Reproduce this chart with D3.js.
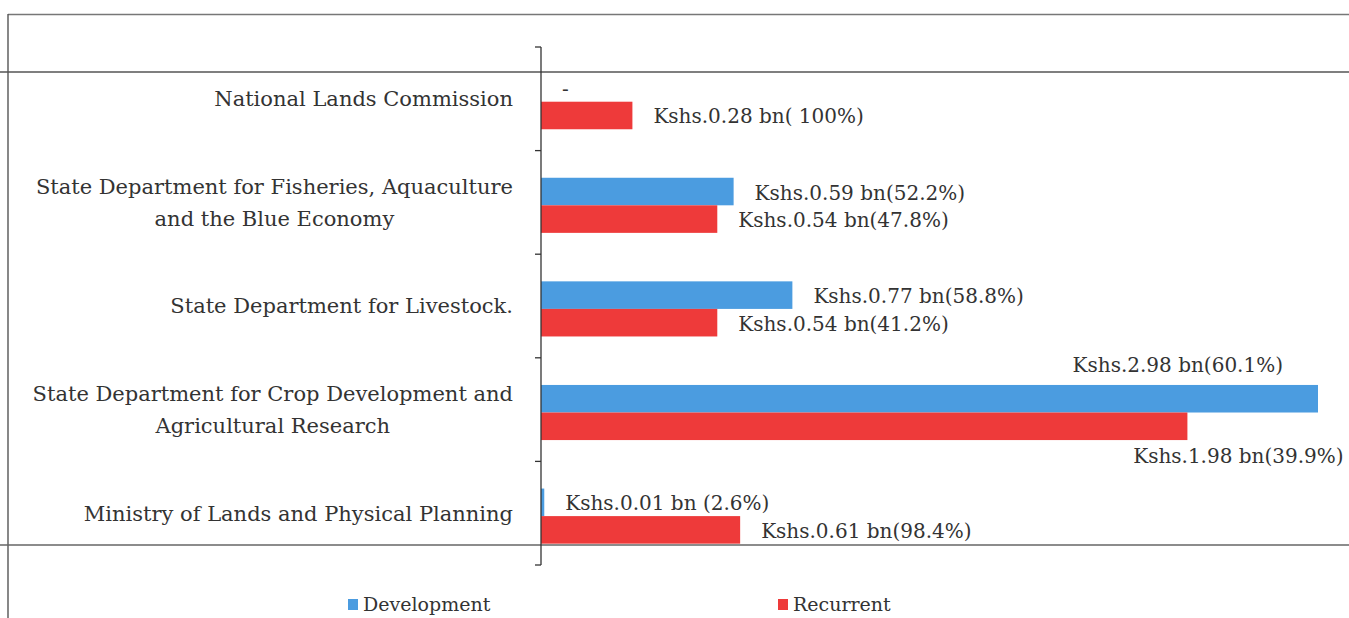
<!DOCTYPE html>
<html><head><meta charset="utf-8">
<script src="https://cdn.jsdelivr.net/npm/d3@7"></script>
<style>
body{margin:0;background:#fff;}
</style>
</head><body>
<svg id="chart" width="1349" height="618" font-family="'DejaVu Serif', serif" fill="#333"></svg>
<script>
// ---- data (top to bottom as drawn) ----
const categories = [
  "National Lands Commission",
  "State Department for Fisheries, Aquaculture\nand the Blue Economy",
  "State Department for Livestock.",
  "State Department for Crop Development and\nAgricultural Research",
  "Ministry of Lands and Physical Planning"
];
const seriesNames = ["Development", "Recurrent"];
const development = [0, 0.59, 0.77, 2.98, 0.01];   // Kshs bn
const recurrent   = [0.28, 0.54, 0.54, 1.98, 0.61]; // Kshs bn
const devLabels = ["-", "Kshs.0.59 bn(52.2%)", "Kshs.0.77 bn(58.8%)", "Kshs.2.98 bn(60.1%)", "Kshs.0.01 bn (2.6%)"];
const recLabels = ["Kshs.0.28 bn( 100%)", "Kshs.0.54 bn(47.8%)", "Kshs.0.54 bn(41.2%)", "Kshs.1.98 bn(39.9%)", "Kshs.0.61 bn(98.4%)"];
const axisMax = 2.38; // value axis maximum of the source chart (longer bars are cut at the edge)

// ---- styling ----
const colors = {Development: "#4b9ce0", Recurrent: "#ee3a3a"};
const catFont = 21, labelFont = 20, legendFont = 19;
const svg = d3.select("#chart");

const x = d3.scaleLinear().domain([0, axisMax]).range([541, 1318]).clamp(true);
const y = d3.scaleBand().domain(d3.range(categories.length)).range([47, 565]);
const sub = d3.scaleBand().domain(seriesNames).range([0, y.bandwidth()]).paddingOuter(0.88).align(0.56);

// frame lines (scanned page borders)
const frame = svg.append("g").attr("stroke", "#555").attr("stroke-width", 1.4);
frame.append("line").attr("x1", 8).attr("x2", 1349).attr("y1", 14.5).attr("y2", 14.5).attr("stroke","#777");
frame.append("line").attr("x1", 8).attr("x2", 8).attr("y1", 14).attr("y2", 618);
frame.append("line").attr("x1", 0).attr("x2", 1349).attr("y1", 72).attr("y2", 72);
frame.append("line").attr("x1", 0).attr("x2", 1349).attr("y1", 545).attr("y2", 545).attr("stroke","#666");

// bars
const rows = categories.map((c, i) => ({
  i, cat: c,
  vals: [
    {s: "Development", v: development[i], label: devLabels[i]},
    {s: "Recurrent", v: recurrent[i], label: recLabels[i]}
  ]
}));

const g = svg.append("g");
rows.forEach(r => {
  r.vals.forEach(d => {
    const y0 = y(r.i) + sub(d.s);
    if (d.v > 0) {
      g.append("rect")
        .attr("x", x(0)).attr("y", y0)
        .attr("width", x(d.v) - x(0)).attr("height", sub.bandwidth())
        .attr("fill", colors[d.s]);
    }
  });
});

// data labels
function placeLabel(r, d) {
  const y0 = y(r.i) + sub(d.s), h = sub.bandwidth(), xe = x(d.v);
  if (r.i === 3 && d.s === "Development") return {x: xe - 35, y: y0 - 20, anchor: "end"};
  if (r.i === 3 && d.s === "Recurrent") return {x: xe + 51, y: y0 + h + 16, anchor: "middle"};
  return {x: xe + 21, y: y0 + h / 2 + 1, anchor: "start"};
}
rows.forEach(r => r.vals.forEach(d => {
  const p = placeLabel(r, d);
  g.append("text").attr("x", p.x).attr("y", p.y).attr("dy", "0.35em")
    .attr("text-anchor", p.anchor).attr("font-size", labelFont).text(d.label);
}));

// category axis
const ax = svg.append("g").attr("stroke", "#333").attr("stroke-width", 1.3);
ax.append("line").attr("x1", x(0)).attr("x2", x(0)).attr("y1", y.range()[0]).attr("y2", y.range()[1]);
const bounds = y.domain().map(i => y(i)).concat([y.range()[1]]);
ax.selectAll(".tk").data(bounds).join("line")
  .attr("x1", x(0) - 6).attr("x2", x(0)).attr("y1", d => d).attr("y2", d => d);

// category labels (multi-line centred, block right-aligned)
rows.forEach(r => {
  const lines = r.cat.split("\n");
  const cy = y(r.i) + y.bandwidth() / 2;
  const t = svg.append("text").attr("font-size", catFont).attr("text-anchor", "middle");
  const lh = 32;
  lines.forEach((ln, k) => {
    t.append("tspan").attr("x", 0).attr("y", cy + (k - (lines.length - 1) / 2) * lh).attr("dy", "0.35em").text(ln);
  });
  const w = t.node().getBBox().width;
  t.selectAll("tspan").attr("x", 513 - w / 2);
});

// legend
const leg = svg.append("g");
const legX = [348, 778];
seriesNames.forEach((s, k) => {
  leg.append("rect").attr("x", legX[k]).attr("y", 599).attr("width", 10).attr("height", 11).attr("fill", colors[s]);
  leg.append("text").attr("x", legX[k] + 15).attr("y", 604).attr("dy", "0.35em").attr("font-size", legendFont).text(s);
});
</script>
</body></html>
